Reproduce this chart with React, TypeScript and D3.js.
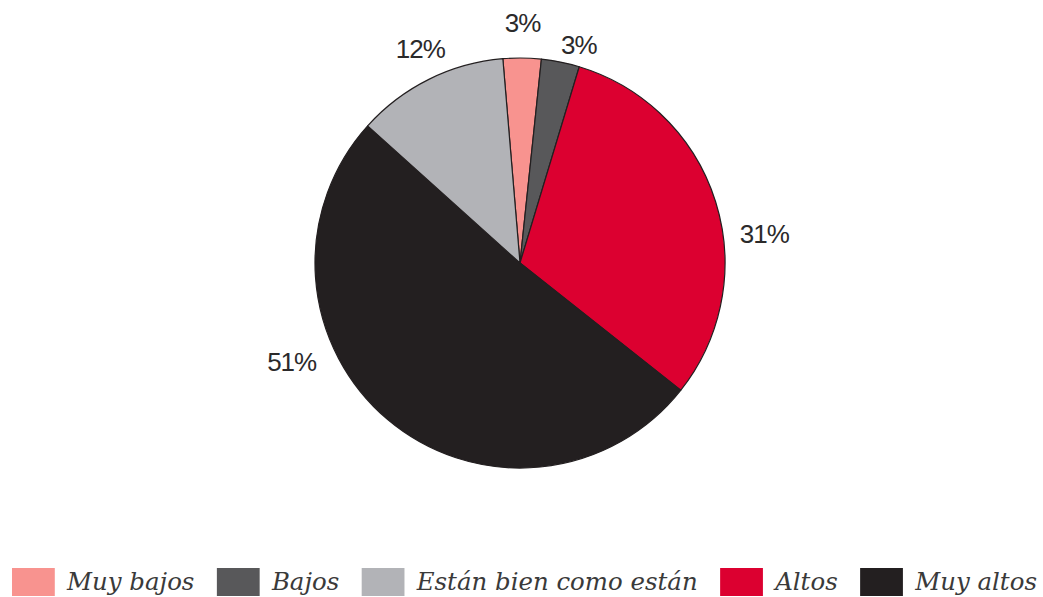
import React, { useEffect, useRef } from 'react';
import * as d3 from 'd3';

const categories = ['Muy bajos', 'Bajos', 'Altos', 'Muy altos', 'Están bien como están'];
const values = [3, 3, 31, 51, 12];
const colors = ['#f8938f', '#58585a', '#dc0030', '#231f20', '#b2b3b7'];
const legendOrder = ['Muy bajos', 'Bajos', 'Están bien como están', 'Altos', 'Muy altos'];

// hand-placed label nudges (degrees, radius), as in the original artwork
const labelNudge: Record<string, [number, number]> = {
  'Muy bajos': [0, 240],
  'Bajos': [3.7, 226],
  'Altos': [10.6, 246],
  'Muy altos': [26.3, 249],
  'Están bien como están': [1.4, 236],
};

const W = 1043;
const H = 597;

const App: React.FC = () => {
  const svgRef = useRef<SVGSVGElement>(null);

  useEffect(() => {
    if (!svgRef.current) return;
    const svg = d3.select(svgRef.current);
    svg.selectAll('*').remove();

    const cx = 520;
    const cy = 263;
    const radius = 205;
    const start = (-4.8 * Math.PI) / 180;

    const color = d3.scaleOrdinal<string, string>().domain(categories).range(colors);

    const pie = d3.pie<number>()
      .sort(null)
      .value(d => d)
      .startAngle(start)
      .endAngle(start + 2 * Math.PI);

    const arcs = pie(values);
    const arc = d3.arc<d3.PieArcDatum<number>>().innerRadius(0).outerRadius(radius);

    const g = svg.append('g').attr('transform', `translate(${cx},${cy})`);

    g.selectAll('path')
      .data(arcs)
      .enter()
      .append('path')
      .attr('d', arc)
      .attr('fill', (_, i) => color(categories[i]))
      .attr('stroke', '#231f20')
      .attr('stroke-width', 1.2)
      .attr('stroke-linejoin', 'round');

    g.selectAll('text.pct')
      .data(arcs)
      .enter()
      .append('text')
      .attr('class', 'pct')
      .attr('transform', (d, i) => {
        const [da, r] = labelNudge[categories[i]];
        const a = (d.startAngle + d.endAngle) / 2 + (da * Math.PI) / 180;
        return `translate(${r * Math.sin(a)},${-r * Math.cos(a)})`;
      })
      .attr('text-anchor', 'middle')
      .attr('dominant-baseline', 'central')
      .attr('font-family', '"Liberation Sans", Arial, sans-serif')
      .attr('font-size', 26)
      .attr('letter-spacing', -1)
      .attr('fill', '#2b2a2b')
      .text((d, i) => `${values[i]}%`);

    // legend: flow layout, then fit into the page width
    const legend = svg.append('g');
    const swW = 42;
    const swH = 28;
    const padIn = 12;
    const padOut = 22;
    let x = 0;
    legendOrder.forEach(name => {
      const item = legend.append('g').attr('transform', `translate(${x},0)`);
      item.append('rect')
        .attr('x', 0)
        .attr('y', 0)
        .attr('width', swW)
        .attr('height', swH)
        .attr('fill', color(name));
      const t = item.append('text')
        .attr('x', swW + padIn)
        .attr('y', 22)
        .attr('font-family', '"DejaVu Serif", serif')
        .attr('font-style', 'italic')
        .attr('font-size', 24)
        .attr('fill', '#3a3a3a')
        .text(name);
      const tw = (t.node() as SVGTextElement).getComputedTextLength();
      x += swW + padIn + tw + padOut;
    });
    const total = x - padOut;
    const sx = (1037 - 12) / total;
    legend.attr('transform', `translate(12,568) scale(${sx},1)`);
  }, []);

  return (
    <svg
      ref={svgRef}
      width={W}
      height={H}
      style={{ position: 'absolute', left: 0, top: 0, background: '#fff' }}
    />
  );
};

export default App;
